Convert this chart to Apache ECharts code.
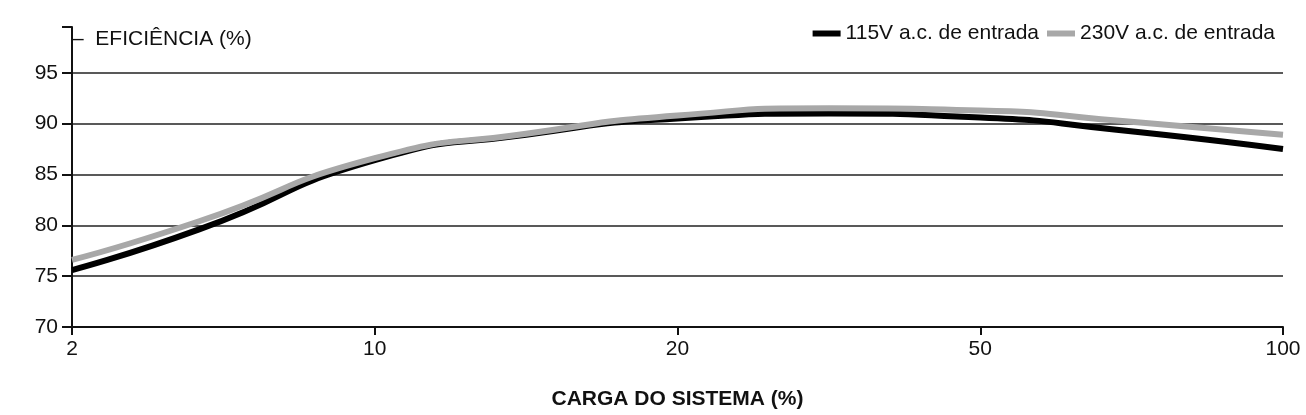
<!DOCTYPE html>
<html><head><meta charset="utf-8">
<script src="https://cdn.jsdelivr.net/npm/echarts@6/dist/echarts.min.js"></script>
<style>html,body{margin:0;background:#fff}#c{width:1306px;height:415px}</style>
</head><body><div id="c"></div>
<script>
// x positions are in tick steps: 0 = 2%, 1 = 10%, 2 = 20%, 3 = 50%, 4 = 100%
var tickLabels = ['2', '10', '20', '50', '100'];
var xPos = [0, 0.42, 1, 1.5, 2, 2.5, 3, 3.45, 4];
var v115 = [75.6, 79.6, 86.4, 88.9, 90.5, 91.0, 90.6, 89.4, 87.5];
var v230 = [76.6, 80.4, 86.6, 89.0, 90.8, 91.5, 91.3, 90.3, 88.9];

function pairs(v) { return xPos.map(function (x, i) { return [x, v[i]]; }); }

var chart = echarts.init(document.getElementById('c'));
chart.setOption({
    animation: false,
    textStyle: { fontFamily: 'Liberation Sans, Arial, sans-serif' },
    grid: { left: 72, right: 23, top: 27, bottom: 88 },
    legend: {
        right: 26, top: 18, itemGap: 8, itemWidth: 28, itemHeight: 6,
        icon: 'rect',
        textStyle: { fontSize: 21, color: '#111' },
        data: ['115V a.c. de entrada', '230V a.c. de entrada']
    },
    xAxis: {
        type: 'value', min: 0, max: 4, interval: 1,
        name: 'CARGA DO SISTEMA (%)', nameLocation: 'middle', nameGap: 62,
        nameTextStyle: { fontSize: 21, fontWeight: 'bold', color: '#111' },
        axisLine: { lineStyle: { color: '#111', width: 2 } },
        axisTick: { length: 8, lineStyle: { color: '#111', width: 2 } },
        axisLabel: { fontSize: 21, color: '#111', margin: 12,
            formatter: function (v) { return tickLabels[v] || ''; } },
        splitLine: { show: false }
    },
    yAxis: {
        type: 'value', min: 70, max: 99.5, interval: 5,
        name: '–  EFICIÊNCIA (%)', nameLocation: 'end', nameGap: -12,
        nameTextStyle: { fontSize: 21, color: '#111', align: 'left', verticalAlign: 'middle', padding: [0, 0, 0, 0] },
        axisLine: { show: true, lineStyle: { color: '#111', width: 2 } },
        axisTick: { show: true, length: 10, lineStyle: { color: '#111', width: 2 } },
        axisLabel: { fontSize: 21, color: '#111', margin: 14,
            formatter: function (v) { return v > 95 ? '' : v; } },
        splitLine: { show: true, lineStyle: { width: 1.5,
            color: ['#222', '#222', '#222', '#222', '#222', '#222', 'transparent'] } }
    },
    series: [
        { name: '115V a.c. de entrada', type: 'line', smooth: 0.6, symbol: 'none',
          data: pairs(v115), itemStyle: { color: '#000' }, lineStyle: { color: '#000', width: 6 }, z: 2 },
        { name: '230V a.c. de entrada', type: 'line', smooth: 0.6, symbol: 'none',
          data: pairs(v230), itemStyle: { color: '#a8a8a8' }, lineStyle: { color: '#a8a8a8', width: 6 }, z: 3 }
    ]
});
</script></body></html>
